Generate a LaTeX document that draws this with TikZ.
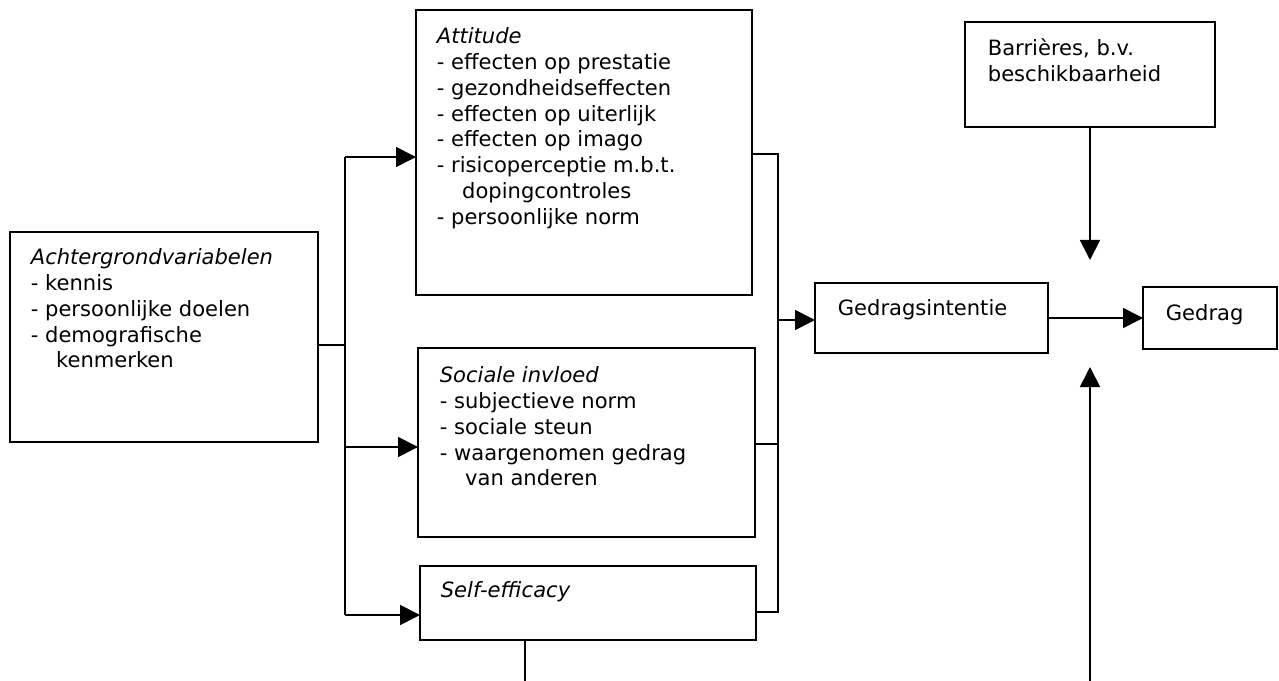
\documentclass[tikz,border=0pt]{standalone}
\usepackage{fontspec}
\setmainfont{DejaVu Sans}
\usetikzlibrary{arrows.meta}

\tikzset{every picture/.style={line width=1.3pt}}
\tikzset{
  box/.style={draw, rectangle, anchor=north west, inner sep=0pt, outer sep=0pt},
  txt/.style={anchor=north west, inner sep=0pt, align=left, font=\fontsize{15.8}{19.3}\selectfont},
  arr/.style={-{Triangle[length=15pt,width=15pt]}}
}

\begin{document}
\begin{tikzpicture}[x=0.75pt,y=0.75pt,yscale=-1,xscale=1]
    \useasboundingbox (0,0) rectangle (1279,681);

    %Boxes
    \node[box, minimum width=231pt, minimum height=157.5pt] (ach) at (10,232) {};
    \node[box, minimum width=252pt, minimum height=213.75pt] (att) at (416,10) {};
    \node[box, minimum width=252.75pt, minimum height=141.75pt] (soc) at (418,348) {};
    \node[box, minimum width=252pt, minimum height=55.5pt] (se) at (420,566) {};
    \node[box, minimum width=174.75pt, minimum height=52.5pt] (gi) at (815,283) {};
    \node[box, minimum width=100.5pt, minimum height=46.5pt] (ged) at (1143,287) {};
    \node[box, minimum width=187.5pt, minimum height=78.75pt] (bar) at (965,22) {};

    % Text Node
    \node[txt] (achtxt) at (30,248) {\itshape Achtergrondvariabelen\\- kennis\\- persoonlijke doelen\\- demografische\\\hspace*{1.2em}kenmerken};
    % Text Node
    \node[txt] (atttxt) at (436,27) {\itshape Attitude\\- effecten op prestatie\\- gezondheidseffecten\\- effecten op uiterlijk\\- effecten op imago\\- risicoperceptie m.b.t.\\\hspace*{1.2em}dopingcontroles\\- persoonlijke norm};
    % Text Node
    \node[txt] (soctxt) at (439,366) {\itshape Sociale invloed\\- subjectieve norm\\- sociale steun\\- waargenomen gedrag\\\hspace*{1.2em}van anderen};
    % Text Node
    \node[txt] (setxt) at (440,581) {\itshape Self-efficacy};
    % Text Node
    \node[txt] (gitxt) at (837,299) {Gedragsintentie};
    % Text Node
    \node[txt] (gedtxt) at (1165,304) {Gedrag};
    % Text Node
    \node[txt] (bartxt) at (987,38) {Barrières, b.v.\\beschikbaarheid};

    %Junctions
    \coordinate (jl) at (345,345);
    \coordinate (jltop) at (345,157);
    \coordinate (jlmid) at (345,447);
    \coordinate (jlbot) at (345,615);
    \coordinate (jrtop) at (778,154);
    \coordinate (jrmid) at (778,444);
    \coordinate (jrbot) at (778,612);
    \coordinate (jrgi) at (778,320);
    \coordinate (bartip) at (1090,260);
    \coordinate (botfoot) at (1090,681);
    \coordinate (bottip) at (1090,367);
    \coordinate (sefoot) at (525,681);

    %Left bus
    \draw (ach.east |- jl) -- (jl);
    \draw (jltop) -- (jlbot);
    \draw[arr] (jltop) -- (att.west |- jltop);
    \draw[arr] (jlmid) -- (soc.west |- jlmid);
    \draw[arr] (jlbot) -- (se.west |- jlbot);

    %Right bus
    \draw (att.east |- jrtop) -- (jrtop) -- (jrbot) -- (se.east |- jrbot);
    \draw (soc.east |- jrmid) -- (jrmid);
    \draw[arr] (jrgi) -- (gi.west |- jrgi);

    \draw[arr] (gi.east) -- (ged.west);
    \draw[arr] (bar.south) -- (bartip);
    \draw[arr] (botfoot) -- (bottip);
    \draw (se.south -| sefoot) -- (sefoot);

\end{tikzpicture}
\end{document}
